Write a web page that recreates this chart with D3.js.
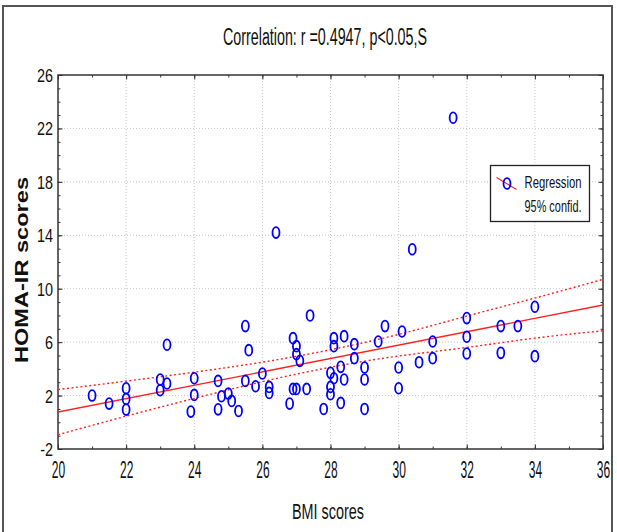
<!DOCTYPE html>
<html>
<head>
<meta charset="utf-8">
<script src="https://cdn.jsdelivr.net/npm/d3@7"></script>
<style>
  body { margin: 0; background: #fff; }
  text { font-family: "Liberation Sans", Arial, sans-serif; fill: #111; }
</style>
</head>
<body>
<div id="chart"></div>
<script>
// BMI (x) and HOMA-IR (y) per subject
const bmi = [21.0, 21.5, 22.0, 22.0, 22.0, 23.0, 23.0, 23.2, 23.2, 23.9,
  24.0, 24.0, 24.7, 24.7, 24.8, 25.0, 25.1, 25.3, 25.5, 25.6,
  25.5, 25.8, 26.0, 26.2, 26.2, 26.4, 26.8, 26.9, 27.0, 27.0,
  27.1, 26.9, 27.0, 27.3, 27.4, 27.8, 28.0, 28.1, 28.0, 28.0,
  28.1, 28.1, 28.3, 28.4, 28.3, 28.4, 28.7, 28.7, 29.0, 29.0,
  29.0, 29.4, 29.6, 30.0, 30.0, 30.1, 30.4, 30.6, 31.0, 31.0,
  31.6, 32.0, 32.0, 32.0, 33.0, 33.0, 33.5, 34.0, 34.0];
const homa = [2.0, 1.4, 2.55, 1.75, 0.95, 3.2, 2.4, 2.9, 5.8, 0.8,
  3.3, 2.05, 3.1, 0.97, 1.95, 2.15, 1.6, 0.85, 7.2, 5.4,
  3.1, 2.7, 3.65, 2.65, 2.2, 14.2, 1.4, 6.3, 5.7, 5.1,
  4.6, 2.5, 2.5, 2.5, 8.0, 1.0, 3.7, 3.3, 2.65, 2.1,
  6.3, 5.7, 4.15, 3.2, 1.45, 6.45, 5.85, 4.8, 4.1, 3.2,
  1.0, 6.05, 7.2, 4.1, 2.55, 6.8, 12.95, 4.5, 6.05, 4.8,
  22.8, 7.8, 6.4, 5.15, 7.2, 5.2, 7.2, 8.65, 4.95];

// regression line and 95% confidence band
const fitX = [20, 36];
const fitY = [0.77, 8.78];
const bandX = [20, 22, 24, 26, 28, 30, 32, 34, 36];
const bandUpper = [2.45, 3.08, 3.75, 4.5, 5.43, 6.58, 7.95, 9.3, 10.7];
const bandLower = [-0.93, 0.46, 1.79, 3.04, 4.12, 4.96, 5.6, 6.3, 6.85];

const xTicks = [20, 22, 24, 26, 28, 30, 32, 34, 36];
const yTicks = [-2, 2, 6, 10, 14, 18, 22, 26];

const title = 'Correlation: r =0.4947, p<0.05,S';
const xLabel = 'BMI scores';
const yLabel = 'HOMA-IR scores';
const legendLabels = ['Regression', '95% confid.'];

const W = 617, H = 532;
const plot = { left: 58, right: 603, top: 75, bottom: 449 };

const svg = d3.select('#chart').append('svg')
  .attr('width', W).attr('height', H);

// outer frame
svg.append('path')
  .attr('d', `M3,${H + 5} V6 H612 V${H + 5}`)
  .attr('fill', 'none').attr('stroke', '#555').attr('stroke-width', 2);

const x = d3.scaleLinear().domain([20, 36]).range([plot.left, plot.right]);
const y = d3.scaleLinear().domain([-2, 26]).range([plot.bottom, plot.top]);

svg.append('defs').append('clipPath').attr('id', 'clip')
  .append('rect')
  .attr('x', plot.left).attr('y', plot.top)
  .attr('width', plot.right - plot.left).attr('height', plot.bottom - plot.top);

// grid
const grid = svg.append('g').attr('stroke', '#c8c8c8').attr('stroke-dasharray', '1,2');
grid.selectAll('.gx').data(xTicks.slice(1, -1)).join('line')
  .attr('x1', d => x(d)).attr('x2', d => x(d))
  .attr('y1', plot.top).attr('y2', plot.bottom);
grid.selectAll('.gy').data(yTicks.slice(1, -1)).join('line')
  .attr('y1', d => y(d)).attr('y2', d => y(d))
  .attr('x1', plot.left).attr('x2', plot.right);

// axes: minor ticks every unit, major ticks at labels, all inward
const xMinor = d3.range(20, 37, 1);
const yMinor = d3.range(-2, 27, 1);

function tickAxis(axisFn, scale, vals, size, tr) {
  const g = svg.append('g').attr('transform', tr)
    .call(axisFn(scale).tickValues(vals).tickSize(size).tickFormat(''));
  g.select('.domain').remove();
  g.selectAll('.tick line').attr('stroke', '#333');
  return g;
}
tickAxis(d3.axisBottom, x, xMinor, -2.5, `translate(0,${plot.bottom})`);
tickAxis(d3.axisTop, x, xMinor, -2.5, `translate(0,${plot.top})`);
tickAxis(d3.axisLeft, y, yMinor, -2.5, `translate(${plot.left},0)`);
tickAxis(d3.axisRight, y, yMinor, -2.5, `translate(${plot.right},0)`);
tickAxis(d3.axisTop, x, xTicks, -4.5, `translate(0,${plot.top})`);
tickAxis(d3.axisRight, y, yTicks, -4.5, `translate(${plot.right},0)`);

const xAxis = svg.append('g').attr('transform', `translate(0,${plot.bottom})`)
  .call(d3.axisBottom(x).tickValues(xTicks).tickSize(-4.5).tickFormat(d => String(d)));
xAxis.select('.domain').remove();
xAxis.selectAll('.tick line').attr('stroke', '#333');
xAxis.selectAll('.tick text')
  .attr('y', null).attr('dy', null)
  .attr('transform', 'translate(0,29) scale(0.5,1)')
  .style('font-size', '24px').attr('fill', '#111');

const yAxis = svg.append('g').attr('transform', `translate(${plot.left},0)`)
  .call(d3.axisLeft(y).tickValues(yTicks).tickSize(-4.5).tickFormat(d => String(d)));
yAxis.select('.domain').remove();
yAxis.selectAll('.tick line').attr('stroke', '#333');
yAxis.selectAll('.tick text')
  .attr('x', null).attr('dy', null)
  .attr('transform', 'translate(-5,6.5) scale(0.8,1)')
  .style('font-size', '18px').attr('fill', '#111');

// plot frame
svg.append('rect')
  .attr('x', plot.left).attr('y', plot.top)
  .attr('width', plot.right - plot.left).attr('height', plot.bottom - plot.top)
  .attr('fill', 'none').attr('stroke', '#333').attr('stroke-width', 1.5);

const body = svg.append('g').attr('clip-path', 'url(#clip)');

// confidence band
const bandLine = d3.line().x(d => x(d[0])).y(d => y(d[1])).curve(d3.curveNatural);
[bandUpper, bandLower].forEach(b => {
  body.append('path')
    .attr('d', bandLine(bandX.map((v, i) => [v, b[i]])))
    .attr('fill', 'none').attr('stroke', '#ff2020')
    .attr('stroke-width', 1.4).attr('stroke-dasharray', '2,2.5');
});

// regression
body.append('path')
  .attr('d', d3.line().x(d => x(d[0])).y(d => y(d[1]))(fitX.map((v, i) => [v, fitY[i]])))
  .attr('fill', 'none').attr('stroke', '#ff2020').attr('stroke-width', 1.4);

// points
body.selectAll('ellipse.pt').data(bmi.map((v, i) => [v, homa[i]])).join('ellipse')
  .attr('class', 'pt')
  .attr('cx', d => x(d[0])).attr('cy', d => y(d[1]))
  .attr('rx', 3.5).attr('ry', 5.4)
  .attr('fill', 'none').attr('stroke', '#0000ff').attr('stroke-width', 1.8);

// legend
const lg = svg.append('g').attr('transform', 'translate(490.5,165.5)');
lg.append('rect').attr('width', 99).attr('height', 56)
  .attr('fill', '#fff').attr('stroke', '#222').attr('stroke-width', 1.3);
lg.append('line').attr('x1', 6).attr('y1', 12).attr('x2', 26).attr('y2', 24)
  .attr('stroke', '#ff2020').attr('stroke-width', 1.2);
lg.append('ellipse').attr('cx', 16.5).attr('cy', 18).attr('rx', 3.5).attr('ry', 5.4)
  .attr('fill', 'none').attr('stroke', '#0000ff').attr('stroke-width', 1.8);
legendLabels.forEach((t, i) => {
  lg.append('text').attr('x', 34).attr('y', 22.5 + i * 24)
    .attr('textLength', i === 0 ? 57 : 57).attr('lengthAdjust', 'spacingAndGlyphs')
    .style('font-size', '17px').text(t);
});

// title and axis labels
svg.append('text').attr('x', 223).attr('y', 45)
  .attr('textLength', 204).attr('lengthAdjust', 'spacingAndGlyphs')
  .style('font-size', '23px').text(title);

svg.append('text').attr('x', 292).attr('y', 519)
  .attr('textLength', 72).attr('lengthAdjust', 'spacingAndGlyphs')
  .style('font-size', '22px').text(xLabel);

svg.append('text')
  .attr('transform', 'translate(28,270) rotate(-90)')
  .attr('text-anchor', 'middle')
  .attr('textLength', 186).attr('lengthAdjust', 'spacingAndGlyphs')
  .style('font-size', '18px').style('font-weight', 'bold').text(yLabel);
</script>
</body>
</html>
